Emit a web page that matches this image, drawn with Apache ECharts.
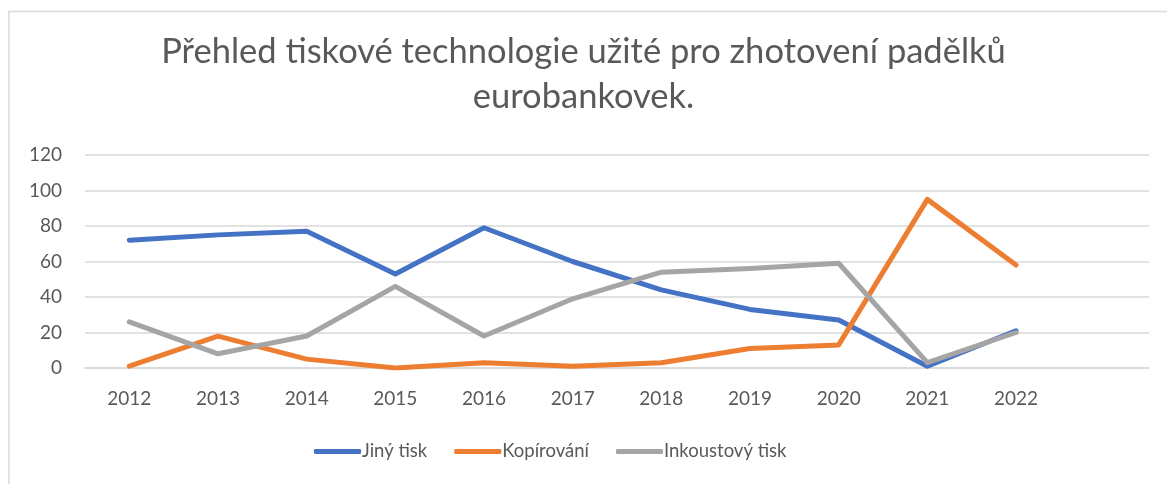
<!DOCTYPE html>
<html><head><meta charset="utf-8">
<script src="https://cdn.jsdelivr.net/npm/echarts@6/dist/echarts.min.js"></script>
<style>html,body{margin:0;padding:0;background:#fff}#c{width:1167px;height:484px}</style>
</head><body><div id="c"></div>
<script>
const categories = ['2012','2013','2014','2015','2016','2017','2018','2019','2020','2021','2022',''];
const jinyTisk = [72, 75, 77, 53, 79, 60, 44, 33, 27, 1, 21];
const kopirovani = [1, 18, 5, 0, 3, 1, 3, 11, 13, 95, 58];
const inkoustovyTisk = [26, 8, 18, 46, 18, 39, 54, 56, 59, 3, 20];
const seriesNames = ['Jiný tisk', 'Kopírování', 'Inkoustový tisk'];
const titleText = 'Přehled tiskové technologie užité pro zhotovení padělků\neurobankovek.';

const font = 'Lato';
const chart = echarts.init(document.getElementById('c'), null, {renderer: 'canvas'});
const mk = (name, data, color) => ({
  name, type: 'line', data, symbol: 'none', smooth: false,
  lineStyle: {width: 5, color, cap: 'round', join: 'round'},
  itemStyle: {color}, z: 2
});
chart.setOption({
  animation: false,
  backgroundColor: '#fff',
  graphic: [{type: 'rect', shape: {x: 9, y: 11.5, width: 1200, height: 500},
    style: {fill: 'none', stroke: '#d9d9d9', lineWidth: 1.5}, silent: true}],
  title: {text: titleText, left: 'center', top: 24,
    textStyle: {fontFamily: font, fontSize: 34.5, fontWeight: 'normal', color: '#595959', lineHeight: 45}},
  legend: {bottom: 18, left: 309, itemWidth: 47, itemHeight: 5, itemGap: 27, icon: 'roundRect',
    textStyle: {fontFamily: font, fontSize: 18.5, color: '#595959', padding: [0, 0, 0, -4]},
    data: seriesNames},
  grid: {left: 85, right: 18, top: 155, bottom: 116, containLabel: false},
  xAxis: {type: 'category', data: categories, boundaryGap: true,
    axisLine: {show: true, lineStyle: {color: '#d9d9d9', width: 1.5}},
    axisTick: {show: false},
    axisLabel: {fontFamily: font, fontSize: 19, color: '#595959', margin: 21}},
  yAxis: {type: 'value', min: 0, max: 120, interval: 20,
    axisLine: {show: false}, axisTick: {show: false},
    splitLine: {lineStyle: {color: '#d9d9d9', width: 1.5}},
    axisLabel: {fontFamily: font, fontSize: 19, color: '#595959', margin: 23}},
  series: [
    mk(seriesNames[0], jinyTisk, '#4472C4'),
    mk(seriesNames[1], kopirovani, '#ED7D31'),
    mk(seriesNames[2], inkoustovyTisk, '#A5A5A5')
  ]
});
</script></body></html>
